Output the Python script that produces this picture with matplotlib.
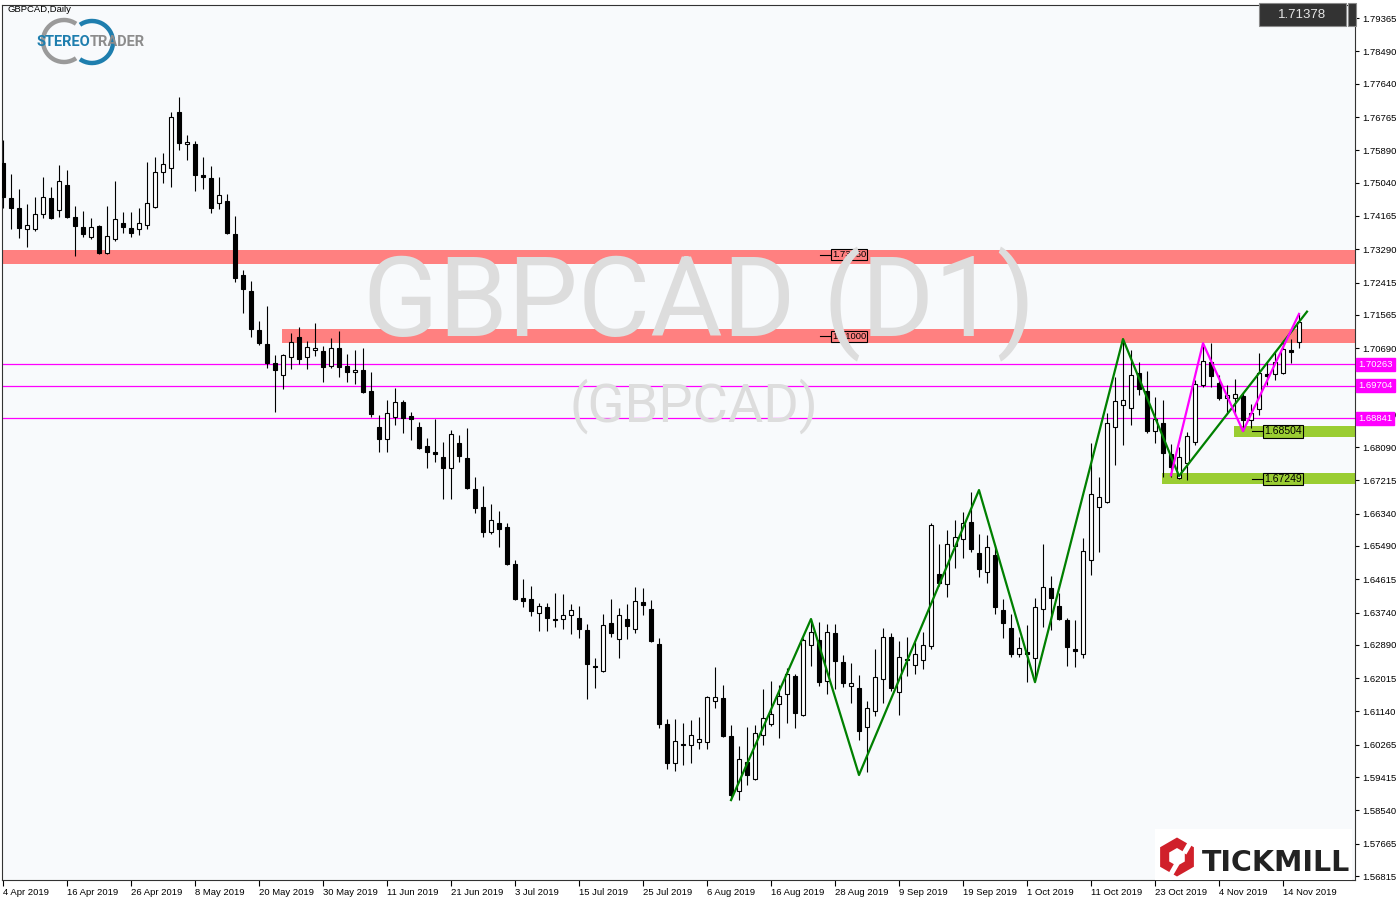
import numpy as np
import pandas as pd
import matplotlib
matplotlib.use("Agg")
import matplotlib.pyplot as plt
from matplotlib.patches import Rectangle, Arc, RegularPolygon

plt.rcParams["font.family"] = ["Liberation Sans", "DejaVu Sans"]

# GBPCAD daily candles (first bar = 4 Apr 2019)
opens = [1.7555, 1.7463, 1.7437, 1.7382, 1.7382, 1.7421, 1.7463, 1.7432, 1.7498, 1.7414,
         1.7387, 1.7361, 1.7390, 1.7319, 1.7356, 1.7398, 1.7385, 1.7382, 1.7392, 1.7440,
         1.7532, 1.7542, 1.7689, 1.7605, 1.7605, 1.7524, 1.7516, 1.7450, 1.7456, 1.7369,
         1.7261, 1.7219, 1.7117, 1.7080, 1.7030, 1.6998, 1.7046, 1.7098, 1.7046, 1.7064,
         1.7061, 1.7022, 1.7069, 1.7022, 1.7006, 1.7011, 1.6956, 1.6862, 1.6830, 1.6888,
         1.6927, 1.6891, 1.6862, 1.6812, 1.6796, 1.6783, 1.6754, 1.6820, 1.6780, 1.6699,
         1.6651, 1.6586, 1.6609, 1.6599, 1.6502, 1.6412, 1.6410, 1.6373, 1.6389, 1.6357,
         1.6357, 1.6367, 1.6360, 1.6328, 1.6233, 1.6220, 1.6346, 1.6304, 1.6357, 1.6331,
         1.6402, 1.6383, 1.6291, 1.6081, 1.5979, 1.6028, 1.6026, 1.6034, 1.6034, 1.6141,
         1.6149, 1.6050, 1.5905, 1.5981, 1.5936, 1.6052, 1.6081, 1.6134, 1.6160, 1.6207,
         1.6105, 1.6289, 1.6302, 1.6194, 1.6320, 1.6244, 1.6181, 1.6176, 1.6073, 1.6115,
         1.6199, 1.6310, 1.6165, 1.6252, 1.6236, 1.6249, 1.6286, 1.6475, 1.6449, 1.6549,
         1.6567, 1.6612, 1.6530, 1.6480, 1.6525, 1.6381, 1.6333, 1.6265, 1.6270, 1.6254,
         1.6383, 1.6438, 1.6391, 1.6354, 1.6278, 1.6265, 1.6512, 1.6651, 1.6664, 1.6862,
         1.6919, 1.6912, 1.7004, 1.6956, 1.6851, 1.6872, 1.6791, 1.6728, 1.6767, 1.6822,
         1.6972, 1.7032, 1.6977, 1.6938, 1.6938, 1.6943, 1.6880, 1.6909, 1.7001, 1.7001,
         1.7003, 1.7064, 1.7085]
highs = [1.7616, 1.7527, 1.7487, 1.7448, 1.7466, 1.7519, 1.7492, 1.7550, 1.7537, 1.7442,
         1.7429, 1.7411, 1.7392, 1.7442, 1.7508, 1.7427, 1.7427, 1.7437, 1.7558, 1.7571,
         1.7582, 1.7689, 1.7729, 1.7629, 1.7613, 1.7571, 1.7548, 1.7519, 1.7474, 1.7416,
         1.7274, 1.7245, 1.7140, 1.7180, 1.7051, 1.7053, 1.7109, 1.7124, 1.7088, 1.7135,
         1.7075, 1.7096, 1.7114, 1.7053, 1.7064, 1.7069, 1.7006, 1.6893, 1.6932, 1.6964,
         1.6932, 1.6901, 1.6875, 1.6833, 1.6883, 1.6822, 1.6854, 1.6841, 1.6859, 1.6730,
         1.6707, 1.6659, 1.6641, 1.6609, 1.6512, 1.6462, 1.6444, 1.6399, 1.6399, 1.6425,
         1.6423, 1.6396, 1.6391, 1.6344, 1.6254, 1.6370, 1.6410, 1.6386, 1.6396, 1.6441,
         1.6438, 1.6407, 1.6307, 1.6094, 1.6094, 1.6084, 1.6092, 1.6099, 1.6155, 1.6231,
         1.6184, 1.6078, 1.6023, 1.6073, 1.6078, 1.6173, 1.6194, 1.6184, 1.6228, 1.6212,
         1.6307, 1.6357, 1.6349, 1.6344, 1.6344, 1.6262, 1.6241, 1.6210, 1.6141, 1.6278,
         1.6333, 1.6320, 1.6299, 1.6310, 1.6296, 1.6323, 1.6609, 1.6554, 1.6591, 1.6617,
         1.6638, 1.6691, 1.6580, 1.6578, 1.6552, 1.6410, 1.6370, 1.6310, 1.6341, 1.6412,
         1.6554, 1.6470, 1.6425, 1.6360, 1.6354, 1.6570, 1.6820, 1.6730, 1.6898, 1.6993,
         1.7093, 1.7064, 1.7032, 1.7009, 1.6940, 1.6932, 1.6817, 1.6809, 1.6848, 1.6985,
         1.7082, 1.7082, 1.6998, 1.6972, 1.6988, 1.6951, 1.6922, 1.7056, 1.7032, 1.7059,
         1.7090, 1.7093, 1.7159]
lows = [1.7437, 1.7382, 1.7358, 1.7335, 1.7377, 1.7411, 1.7408, 1.7414, 1.7411, 1.7311,
        1.7361, 1.7356, 1.7316, 1.7316, 1.7350, 1.7371, 1.7361, 1.7366, 1.7382, 1.7437,
        1.7503, 1.7492, 1.7590, 1.7563, 1.7482, 1.7487, 1.7424, 1.7435, 1.7369, 1.7243,
        1.7161, 1.7098, 1.7077, 1.7017, 1.6901, 1.6961, 1.7014, 1.7027, 1.7014, 1.7049,
        1.6980, 1.7017, 1.6993, 1.6980, 1.6975, 1.6951, 1.6888, 1.6796, 1.6796, 1.6867,
        1.6846, 1.6827, 1.6804, 1.6754, 1.6769, 1.6672, 1.6672, 1.6769, 1.6699, 1.6636,
        1.6572, 1.6580, 1.6546, 1.6499, 1.6407, 1.6389, 1.6365, 1.6325, 1.6325, 1.6336,
        1.6330, 1.6317, 1.6307, 1.6147, 1.6176, 1.6218, 1.6310, 1.6254, 1.6304, 1.6320,
        1.6367, 1.6296, 1.6071, 1.5963, 1.5957, 1.5973, 1.5979, 1.6015, 1.6015, 1.6123,
        1.6047, 1.5881, 1.5881, 1.5921, 1.5934, 1.6026, 1.6076, 1.6044, 1.6084, 1.6071,
        1.6102, 1.6234, 1.6181, 1.6160, 1.6173, 1.6178, 1.6136, 1.6039, 1.5955, 1.6102,
        1.6136, 1.6168, 1.6105, 1.6207, 1.6212, 1.6226, 1.6278, 1.6444, 1.6415, 1.6491,
        1.6517, 1.6533, 1.6467, 1.6452, 1.6370, 1.6307, 1.6257, 1.6257, 1.6191, 1.6197,
        1.6336, 1.6328, 1.6354, 1.6234, 1.6231, 1.6254, 1.6473, 1.6533, 1.6662, 1.6762,
        1.6814, 1.6867, 1.6946, 1.6846, 1.6820, 1.6730, 1.6730, 1.6725, 1.6722, 1.6814,
        1.6967, 1.6967, 1.6932, 1.6898, 1.6893, 1.6850, 1.6859, 1.6893, 1.6972, 1.6985,
        1.7001, 1.7030, 1.7069]
closes = [1.7466, 1.7437, 1.7385, 1.7392, 1.7421, 1.7466, 1.7411, 1.7508, 1.7414, 1.7390,
          1.7369, 1.7387, 1.7319, 1.7364, 1.7408, 1.7387, 1.7371, 1.7398, 1.7450, 1.7532,
          1.7553, 1.7676, 1.7608, 1.7611, 1.7524, 1.7519, 1.7437, 1.7471, 1.7371, 1.7253,
          1.7224, 1.7119, 1.7082, 1.7030, 1.7011, 1.7051, 1.7085, 1.7040, 1.7072, 1.7069,
          1.7019, 1.7069, 1.7019, 1.7006, 1.7011, 1.6954, 1.6896, 1.6830, 1.6898, 1.6927,
          1.6885, 1.6883, 1.6806, 1.6796, 1.6791, 1.6754, 1.6843, 1.6785, 1.6701, 1.6649,
          1.6586, 1.6617, 1.6594, 1.6502, 1.6410, 1.6404, 1.6378, 1.6391, 1.6360, 1.6354,
          1.6367, 1.6381, 1.6331, 1.6239, 1.6231, 1.6341, 1.6320, 1.6367, 1.6339, 1.6404,
          1.6394, 1.6299, 1.6081, 1.5979, 1.6036, 1.6026, 1.6052, 1.6041, 1.6152, 1.6152,
          1.6050, 1.5894, 1.5989, 1.5947, 1.6057, 1.6097, 1.6107, 1.6155, 1.6212, 1.6110,
          1.6302, 1.6323, 1.6191, 1.6323, 1.6247, 1.6189, 1.6189, 1.6063, 1.6123, 1.6205,
          1.6310, 1.6176, 1.6257, 1.6249, 1.6265, 1.6289, 1.6604, 1.6452, 1.6554, 1.6572,
          1.6609, 1.6541, 1.6488, 1.6546, 1.6389, 1.6346, 1.6265, 1.6281, 1.6265, 1.6389,
          1.6441, 1.6412, 1.6357, 1.6283, 1.6273, 1.6536, 1.6686, 1.6678, 1.6872, 1.6930,
          1.6932, 1.6998, 1.6961, 1.6851, 1.6883, 1.6793, 1.6756, 1.6783, 1.6838, 1.6975,
          1.7035, 1.6996, 1.6938, 1.6946, 1.6948, 1.6880, 1.6898, 1.7004, 1.6996, 1.7032,
          1.7067, 1.7059, 1.7138]

dates = pd.bdate_range("2019-04-04", periods=len(opens))

price_ticks = [1.79365, 1.78490, 1.77640, 1.76765, 1.75890, 1.75040, 1.74165, 1.73290,
               1.72415, 1.71565, 1.70690, 1.69815, 1.68940, 1.68090, 1.67215, 1.66340,
               1.65490, 1.64615, 1.63740, 1.62890, 1.62015, 1.61140, 1.60265, 1.59415,
               1.58540, 1.57665, 1.56815]

# horizontal magenta levels
levels = [1.70263, 1.69704, 1.68841]

# resistance bands (red) and support zones (green)
resist_lo = [1.7291, 1.7082]
resist_hi = [1.7327, 1.7119]
resist_from = [-5, 35]
resist_text = ["1.73150", "1.71000"]
resist_at = [1.7315, 1.7100]

support_lo = [1.6835, 1.6712]
support_hi = [1.6864, 1.6741]
support_from = [154, 145]
support_text = ["1.68504", "1.67249"]
support_at = [1.68504, 1.67249]

# zigzag drawings (bar number, price)
green_bar = [91, 101, 107, 122, 129, 140, 147, 163]
green_price = [1.5881, 1.6357, 1.5947, 1.6696, 1.6191, 1.7093, 1.6733, 1.7165]
pink_bar = [146, 150, 155, 162]
pink_price = [1.6735, 1.7082, 1.6851, 1.7159]

last_price = "1.71378"

W, H = 1400, 900
fig = plt.figure(figsize=(W / 100, H / 100), dpi=100, facecolor="white")
ax = fig.add_axes([2 / W, 20 / H, 1353 / W, 875 / H])
ax.set_facecolor("#F8FAFC")
ax.set_xlim(-0.125, 169)
ax.set_ylim(1.5671, 1.7971)

o = np.array(opens)
h = np.array(highs)
l = np.array(lows)
c = np.array(closes)
x = np.arange(len(o))
up = c >= o
body_lo = np.minimum(o, c)
body_hi = np.maximum(o, c)

ax.vlines(x, l, h, color="black", lw=0.8, zorder=4)
ax.bar(x, np.maximum(body_hi - body_lo, 0.0003), bottom=body_lo, width=0.56,
       color=np.where(up, "white", "black"), edgecolor="black", linewidth=0.8, zorder=5)

# bands
for lo_, hi_, s in zip(resist_lo, resist_hi, resist_from):
    ax.add_patch(Rectangle((s - 0.1, lo_), 300, hi_ - lo_, facecolor="#FF8080",
                           edgecolor="none", zorder=1))
for lo_, hi_, s in zip(support_lo, support_hi, support_from):
    ax.add_patch(Rectangle((s - 0.1, lo_), 300, hi_ - lo_, facecolor="#9ACD32",
                           edgecolor="none", zorder=1))

for txt, p in zip(resist_text, resist_at):
    ax.plot([102.1, 103.5], [p, p], color="black", lw=0.8, zorder=3)
    ax.text(103.6, p, txt, fontsize=6.8, va="center", ha="left", zorder=3,
            bbox=dict(boxstyle="square,pad=0.12", fc="#FF8080", ec="black", lw=0.8))
for txt, p in zip(support_text, support_at):
    ax.plot([156.1, 157.5], [p, p], color="black", lw=0.8, zorder=3)
    ax.text(157.6, p, txt, fontsize=7.5, va="center", ha="left", zorder=3,
            bbox=dict(boxstyle="square,pad=0.12", fc="#9ACD32", ec="black", lw=0.8))

for p in levels:
    ax.axhline(p, color="#FF00FF", lw=0.9, zorder=2)
    ax.annotate(f"{p:.5f}", xy=(1, p), xycoords=("axes fraction", "data"),
                xytext=(2.2, 0), textcoords="offset points", fontsize=6.8,
                color="white", va="center", ha="left", annotation_clip=False, zorder=10,
                bbox=dict(boxstyle="square,pad=0.22", fc="#FF00FF", ec="#FF00FF"))

ax.plot(green_bar, green_price, color="#008000", lw=1.6, zorder=6)
ax.plot(pink_bar, pink_price, color="#FF00FF", lw=1.6, zorder=6)

# watermark
ax.text((699 - 2) / 1353, (880 - 336) / 875, "GBPCAD (D1)", transform=ax.transAxes,
        family="Roboto", fontsize=80, color="#DDDDDD", ha="center", va="baseline", zorder=3.5)
ax.text((694 - 2) / 1353, (880 - 422) / 875, "(GBPCAD)", transform=ax.transAxes,
        family="Roboto", fontsize=39, color="#DDDDDD", ha="center", va="baseline", zorder=3.5)

# axes
ax.yaxis.tick_right()
ax.set_yticks(price_ticks)
ax.set_yticklabels([f"{v:.5f}" for v in price_ticks])
ax.tick_params(axis="y", direction="out", length=3, width=0.8, pad=2, labelsize=6.8)
ax.set_xticks(x[::8])
ax.set_xticklabels([f"{d.day} {d.strftime('%b %Y')}" for d in dates[::8]])
ax.tick_params(axis="x", direction="out", length=4, width=0.8, pad=1.5, labelsize=6.8)
for t in ax.get_xticklabels():
    t.set_ha("left")
for s in ax.spines.values():
    s.set_color("#333333")
    s.set_linewidth(0.8)

fig.text(7 / W, 1 - 10 / H, "GBPCAD,Daily", fontsize=6.8, ha="left", va="center")

# last price box
fig.add_artist(Rectangle((1259 / W, 1 - 26 / H), 87 / W, 23 / H, transform=fig.transFigure,
                         fc="#333333", ec="#8A8A8A", lw=0.8, zorder=20))
fig.add_artist(Rectangle((1348 / W, 1 - 26 / H), 8 / W, 23 / H, transform=fig.transFigure,
                         fc="#333333", ec="#8A8A8A", lw=0.8, zorder=20))
fig.text(1302 / W, 1 - 14.5 / H, last_price, fontsize=9.5, color="#E6E6E6",
         ha="center", va="center", zorder=21)

# STEREOTRADER logo
px = fig.dpi_scale_trans
fig.add_artist(Arc((64 / 100, (H - 41) / 100), 0.42, 0.42, theta1=55, theta2=305,
                   lw=3.2, color="#9A9A9A", transform=px, zorder=20))
fig.add_artist(Arc((92 / 100, (H - 42) / 100), 0.42, 0.42, theta1=-125, theta2=125,
                   lw=3.2, color="#1E7EAE", transform=px, zorder=20))
fig.text(90 / W, 1 - 42 / H, "STEREO", fontsize=10.5, fontweight="bold", color="#1E7EAE",
         family="Roboto", ha="right", va="center", zorder=21)
fig.text(90 / W, 1 - 42 / H, "TRADER", fontsize=10.5, fontweight="bold", color="#8C8C8C",
         family="Roboto", ha="left", va="center", zorder=21)

# TICKMILL logo
fig.add_artist(Rectangle((1155 / W, 1 - 880 / H), 197 / W, 51 / H, transform=fig.transFigure,
                         fc="white", ec="none", zorder=20))
fig.add_artist(RegularPolygon((1177 / 100, (H - 857) / 100), 6, radius=0.195,
                              fc="#D0202A", ec="none", transform=px, zorder=21))
fig.add_artist(RegularPolygon((1177 / 100, (H - 857) / 100), 6, radius=0.09,
                              fc="white", ec="none", transform=px, zorder=22))
fig.add_artist(Rectangle((1182 / 100, (H - 852) / 100), 0.05, 0.16, angle=-30,
                         fc="white", ec="none", transform=px, zorder=22))
fig.add_artist(Rectangle((1167 / 100, (H - 876) / 100), 0.05, 0.16, angle=-30,
                         fc="white", ec="none", transform=px, zorder=22))
fig.text(1202 / W, 1 - 871 / H, "TICKMILL", fontsize=20.5, fontweight="bold",
         family="DejaVu Sans", color="#222222", ha="left", va="baseline", zorder=23)

fig.savefig("out.png", dpi=100, facecolor="white")
